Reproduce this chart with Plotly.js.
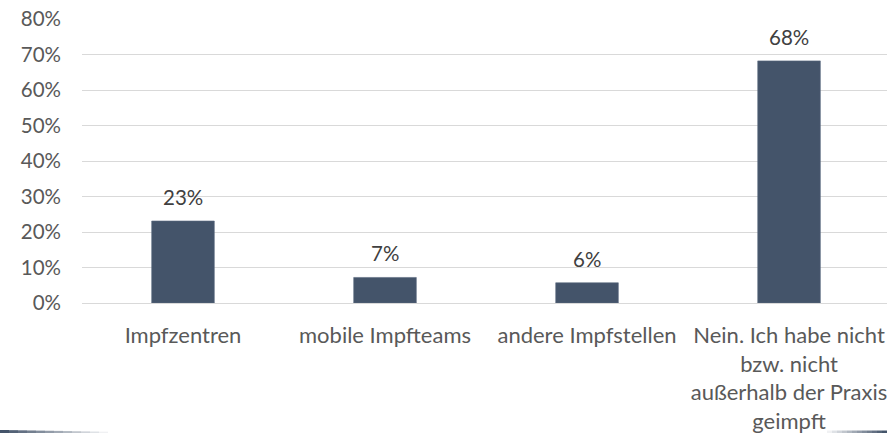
<!DOCTYPE html>
<html>
<head>
<meta charset="utf-8">
<script src="https://cdn.plot.ly/plotly-3.0.1.min.js"></script>
<style>html,body{margin:0;padding:0;overflow:hidden;background:#fff}</style>
</head>
<body>
<div id="chart" style="width:887px;height:433px"></div>
<script>
const categories = ["Impfzentren", "mobile Impfteams", "andere Impfstellen", "Nein. Ich habe nicht<br>bzw. nicht<br>außerhalb der Praxis<br>geimpft"];
const values = [23.1, 7.2, 5.7, 68.2];
const valueLabels = ["23%", "7%", "6%", "68%"];
const yTickVals = [0, 10, 20, 30, 40, 50, 60, 70, 80];
const yTickText = ["0%", "10%", "20%", "30%", "40%", "50%", "60%", "70%", "80%"];

const FONT = "Lato, 'Open Sans', sans-serif";
const FS = 20.5;
const XFS = 22;
const xIdx = categories.map((c, i) => i);

const trace = {
  type: "bar",
  x: xIdx,
  y: values,
  width: 0.31,
  marker: {color: "#44546a", line: {color: "#5a6a80", width: 0.6}},
  hoverinfo: "skip"
};

const annotations = values.map((v, i) => ({
  x: i, y: v, xref: "x", yref: "y",
  text: valueLabels[i], showarrow: false,
  yanchor: "bottom", yshift: 10,
  font: {family: FONT, size: FS, color: "#404040"}
}));

// decorative swoosh at bottom edges
const shapes = [];
const segs = 12;
for (let k = 0; k < segs; k++) {
  shapes.push({type: "rect", xref: "paper", yref: "paper", layer: "above",
    x0: (0 + k * 9 - 82) / 805, x1: (0 + (k + 1) * 9 - 82) / 805,
    y0: (-130 + 0) / 284, y1: (-130 + 3 - k * 0.15) / 284,
    fillcolor: "#44546a", opacity: Math.max(0.05, 1 - k / segs), line: {width: 0}});
  shapes.push({type: "rect", xref: "paper", yref: "paper", layer: "above",
    x0: (887 - (k + 1) * 5 - 82) / 805, x1: (887 - k * 5 - 82) / 805,
    y0: (-130 + 0) / 284, y1: (-130 + 2.5) / 284,
    fillcolor: "#44546a", opacity: Math.max(0.05, 1 - k / segs), line: {width: 0}});
}

const layout = {
  width: 887, height: 433,
  margin: {l: 82, r: 0, t: 19, b: 130},
  paper_bgcolor: "#ffffff", plot_bgcolor: "#ffffff",
  showlegend: false,
  font: {family: FONT, size: FS, color: "#595959"},
  xaxis: {
    range: [-0.5, 3.485],
    tickvals: xIdx, ticktext: categories,
    showgrid: false, zeroline: false, showline: false,
    ticks: "", ticklabelstandoff: 17, ticklabeloverflow: "allow",
    tickfont: {family: FONT, size: XFS, color: "#595959"},
    fixedrange: true
  },
  yaxis: {
    range: [0, 80],
    tickvals: yTickVals, ticktext: yTickText,
    showgrid: true, gridcolor: "#d9d9d9", gridwidth: 1,
    zeroline: true, zerolinecolor: "#d9d9d9", zerolinewidth: 1,
    showline: false, ticks: "", ticklabelstandoff: 20,
    tickfont: {family: FONT, size: FS, color: "#595959"},
    fixedrange: true
  },
  annotations: annotations,
  shapes: shapes
};

Plotly.newPlot("chart", [trace], layout, {displayModeBar: false, staticPlot: true});
</script>
</body>
</html>
